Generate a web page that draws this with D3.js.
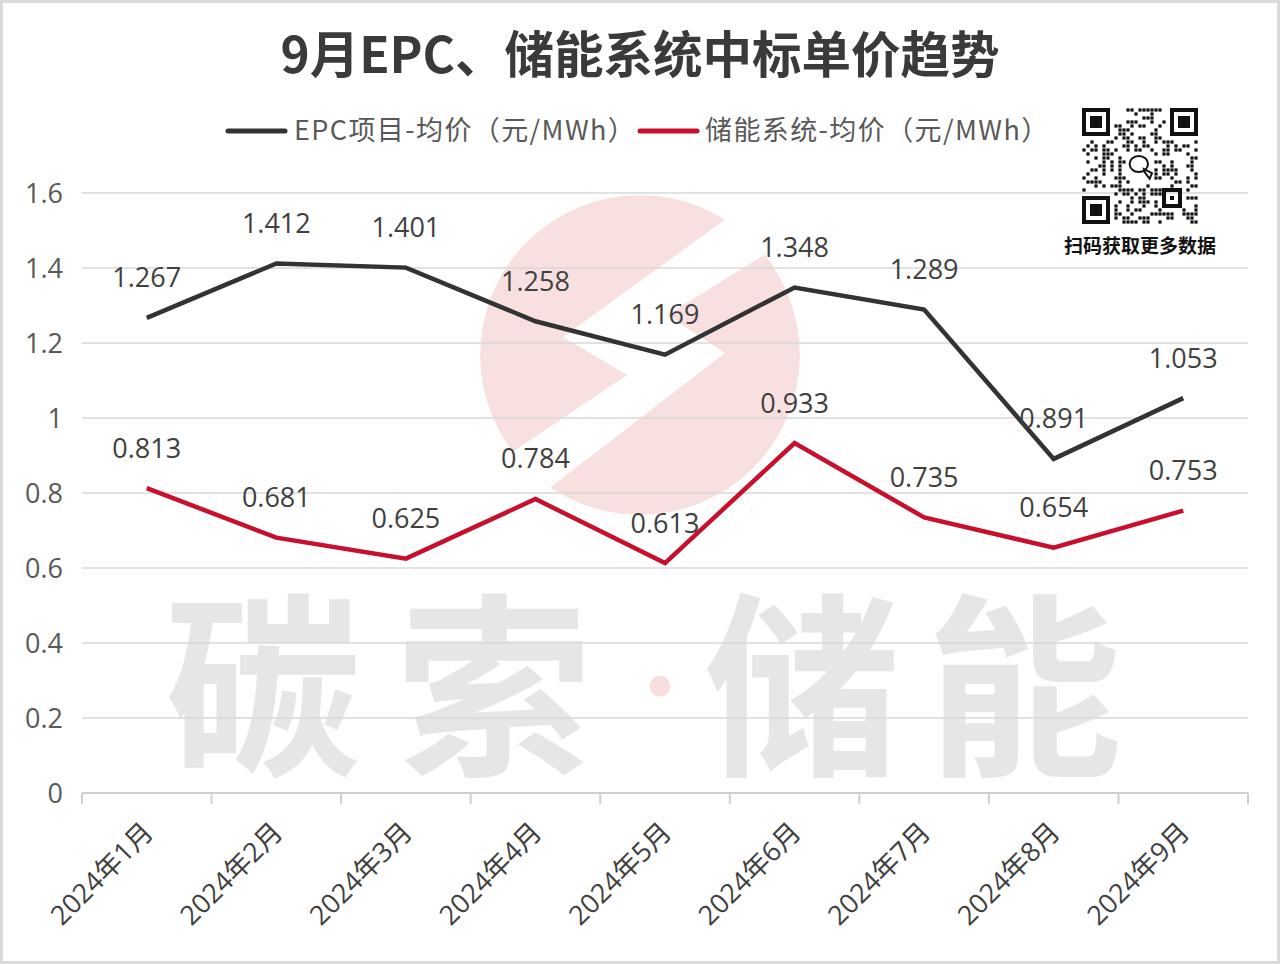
<!DOCTYPE html>
<html>
<head>
<meta charset="utf-8">
<script src="https://cdn.jsdelivr.net/npm/d3@7/dist/d3.min.js"></script>
<style>
html,body{margin:0;padding:0;background:#fff;}
svg{display:block;}
</style>
</head>
<body>
<script>
// ---- data ----
const months = ["2024年1月","2024年2月","2024年3月","2024年4月","2024年5月","2024年6月","2024年7月","2024年8月","2024年9月"];
const epcValues = [1.267, 1.412, 1.401, 1.258, 1.169, 1.348, 1.289, 0.891, 1.053];
const storageValues = [0.813, 0.681, 0.625, 0.784, 0.613, 0.933, 0.735, 0.654, 0.753];
const yTicks = [0, 0.2, 0.4, 0.6, 0.8, 1, 1.2, 1.4, 1.6];
const seriesNames = ["EPC项目-均价（元/MWh）", "储能系统-均价（元/MWh）"];
const titleText = "9月EPC、储能系统中标单价趋势";
const watermarkChars = ["碳", "索", "·", "储", "能"];
const qrCaption = "扫码获取更多数据";

const W = 1280, H = 964;
const FONT = "'Open Sans','Noto Sans CJK SC',sans-serif";
const CJK = "'Noto Sans CJK SC','Open Sans',sans-serif";
const colors = ["#333333", "#c8102e"];

const svg = d3.select("body").append("svg").attr("width", W).attr("height", H);
svg.append("rect").attr("x",0).attr("y",0).attr("width",W).attr("height",H).attr("fill","#fff");

const x = d3.scaleBand().domain(months).range([82, 1248]).padding(0);
const y = d3.scaleLinear().domain([0, 1.6]).range([793, 193]);
const cx = d => x(d) + x.bandwidth()/2;

// ---- watermark logo circle ----
const defs = svg.append("defs");
defs.append("clipPath").attr("id","logoClip").append("circle").attr("cx",640).attr("cy",355).attr("r",160);
const logo = svg.append("g").attr("clip-path","url(#logoClip)");
logo.append("circle").attr("cx",640).attr("cy",355).attr("r",160).attr("fill","#f8e0e0");
logo.append("polygon")
  .attr("points","752,200 563,337 627,375 505,457 547,490 725,353 667,315 780,245")
  .attr("fill","#fff");

// ---- watermark text (each glyph placed separately) ----
const wmPos = [
  {cx:263, size:196, fill:"#e6e6e6", base:760},
  {cx:494, size:196, fill:"#e6e6e6", base:760},
  {cx:660, size:80, fill:"#f6dede", base:716},
  {cx:802, size:196, fill:"#e6e6e6", base:760},
  {cx:1024, size:196, fill:"#e6e6e6", base:760}
];
svg.append("g").selectAll("text").data(watermarkChars).join("text")
  .attr("x",(d,i)=>wmPos[i].cx).attr("y",(d,i)=>wmPos[i].base).attr("text-anchor","middle")
  .attr("font-family",CJK).attr("font-weight",700).attr("font-size",(d,i)=>wmPos[i].size)
  .attr("fill",(d,i)=>wmPos[i].fill).text(d=>d);

// ---- gridlines ----
svg.append("g").selectAll("line").data(yTicks.filter(t=>t>0)).join("line")
  .attr("x1",82).attr("x2",1248).attr("y1",d=>y(d)).attr("y2",d=>y(d))
  .attr("stroke","#d9d9d9").attr("stroke-width",1.5);

// ---- y axis labels ----
const yAxis = d3.axisLeft(y).tickValues(yTicks).tickSize(0).tickPadding(0).tickFormat(d3.format("~g"));
const yg = svg.append("g").attr("transform","translate(63,0)").call(yAxis);
yg.select(".domain").remove();
yg.selectAll("text").attr("font-family",FONT).attr("font-size",27).attr("fill","#595959").attr("dy","0.35em");

// ---- x axis line + ticks at band edges ----
const edges = months.map(m=>x(m)).concat([x(months[months.length-1]) + x.bandwidth()]);
svg.append("line").attr("x1",82).attr("x2",1248).attr("y1",y(0)).attr("y2",y(0)).attr("stroke","#cfcfcf").attr("stroke-width",2);
svg.append("g").selectAll("line").data(edges).join("line")
  .attr("x1",d=>d).attr("x2",d=>d).attr("y1",y(0)).attr("y2",y(0)+11)
  .attr("stroke","#cfcfcf").attr("stroke-width",2);

// x labels rotated
svg.append("g").selectAll("text").data(months).join("text")
  .attr("transform",d=>`translate(${cx(d)+8},${y(0)+41}) rotate(-45)`)
  .attr("text-anchor","end").attr("font-family",FONT).attr("font-size",27).attr("fill","#404040")
  .text(d=>d);

// ---- lines ----
const line = d3.line().x(d=>cx(d.m)).y(d=>y(d.v));
[epcValues, storageValues].forEach((vals,i)=>{
  const pts = months.map((m,j)=>({m, v: vals[j]}));
  svg.append("path").datum(pts).attr("d",line).attr("fill","none")
    .attr("stroke",colors[i]).attr("stroke-width",4.5).attr("stroke-linejoin","miter");
  svg.append("g").selectAll("text").data(pts).join("text")
    .attr("x",d=>cx(d.m)).attr("y",d=>y(d.v)-40).attr("dy","0.35em")
    .attr("text-anchor","middle").attr("font-family",FONT).attr("font-size",27).attr("fill","#404040")
    .text(d=>d.v.toFixed(3));
});

// ---- title ----
svg.append("text").attr("x",640).attr("y",73).attr("text-anchor","middle")
  .attr("font-family",CJK).attr("font-weight",700).attr("font-size",49.5).attr("fill","#3a3a3a")
  .text(titleText);

// ---- legend ----
const legendItems = [{x0:228, tx:294}, {x0:640, tx:705}];
legendItems.forEach((it,i)=>{
  svg.append("line").attr("x1",it.x0).attr("x2",it.x0+57).attr("y1",131).attr("y2",131)
    .attr("stroke",colors[i]).attr("stroke-width",5).attr("stroke-linecap","round");
  svg.append("text").attr("x",it.tx).attr("y",131).attr("dy","0.35em")
    .attr("font-family",CJK).attr("font-size",27).attr("letter-spacing",1.4).attr("fill","#595959").text(seriesNames[i]);
});

// ---- QR code (decorative) ----
const qr = svg.append("g").attr("transform","translate(1082,108)");
const N = 29, S = 116/29;
const inFinder = (i,j)=> (i<8&&j<8)||(i<8&&j>=N-8)||(i>=N-8&&j<8);
const cells = [];
for(let i=0;i<N;i++) for(let j=0;j<N;j++){
  if(inFinder(i,j)) continue;
  if(i>=11&&i<=17&&j>=11&&j<=17) continue;
  if(i>=20&&i<=24&&j>=20&&j<=24) continue;
  const h = ((i*31+j*17+i*j*7)^(i*5+j*3))%7;
  if(h<3) cells.push([i,j]);
}
qr.selectAll("rect.m").data(cells).join("rect").attr("class","m")
  .attr("x",d=>d[1]*S+0.4).attr("y",d=>d[0]*S+0.4).attr("width",S-0.8).attr("height",S-0.8).attr("fill","#111");
function finder(gx,gy,n){
  qr.append("rect").attr("x",gx*S+S/2).attr("y",gy*S+S/2).attr("width",(n-1)*S).attr("height",(n-1)*S)
    .attr("fill","none").attr("stroke","#111").attr("stroke-width",S);
  const k = n===7?3:1;
  qr.append("rect").attr("x",(gx+(n-k)/2)*S).attr("y",(gy+(n-k)/2)*S).attr("width",k*S).attr("height",k*S).attr("fill","#111");
}
finder(0,0,7); finder(N-7,0,7); finder(0,N-7,7); finder(20,20,5);
// wechat-like icon
qr.append("ellipse").attr("cx",14.2*S).attr("cy",14*S).attr("rx",2.3*S).attr("ry",2*S).attr("fill","#fff").attr("stroke","#111").attr("stroke-width",2);
qr.append("path").attr("d",`M${15.5*S},${15.3*S} l${2*S},${1*S} l${-0.6*S},${1.4*S} l${-1.2*S},${-1.6*S}Z`).attr("fill","#fff").attr("stroke","#111").attr("stroke-width",2);
svg.append("text").attr("x",1140).attr("y",253).attr("text-anchor","middle")
  .attr("font-family",CJK).attr("font-weight",700).attr("font-size",19).attr("fill","#111").text(qrCaption);

// ---- outer border ----
svg.append("rect").attr("x",1.5).attr("y",1.5).attr("width",W-3).attr("height",H-3)
  .attr("fill","none").attr("stroke","#d9d9d9").attr("stroke-width",3);
</script>
</body>
</html>
